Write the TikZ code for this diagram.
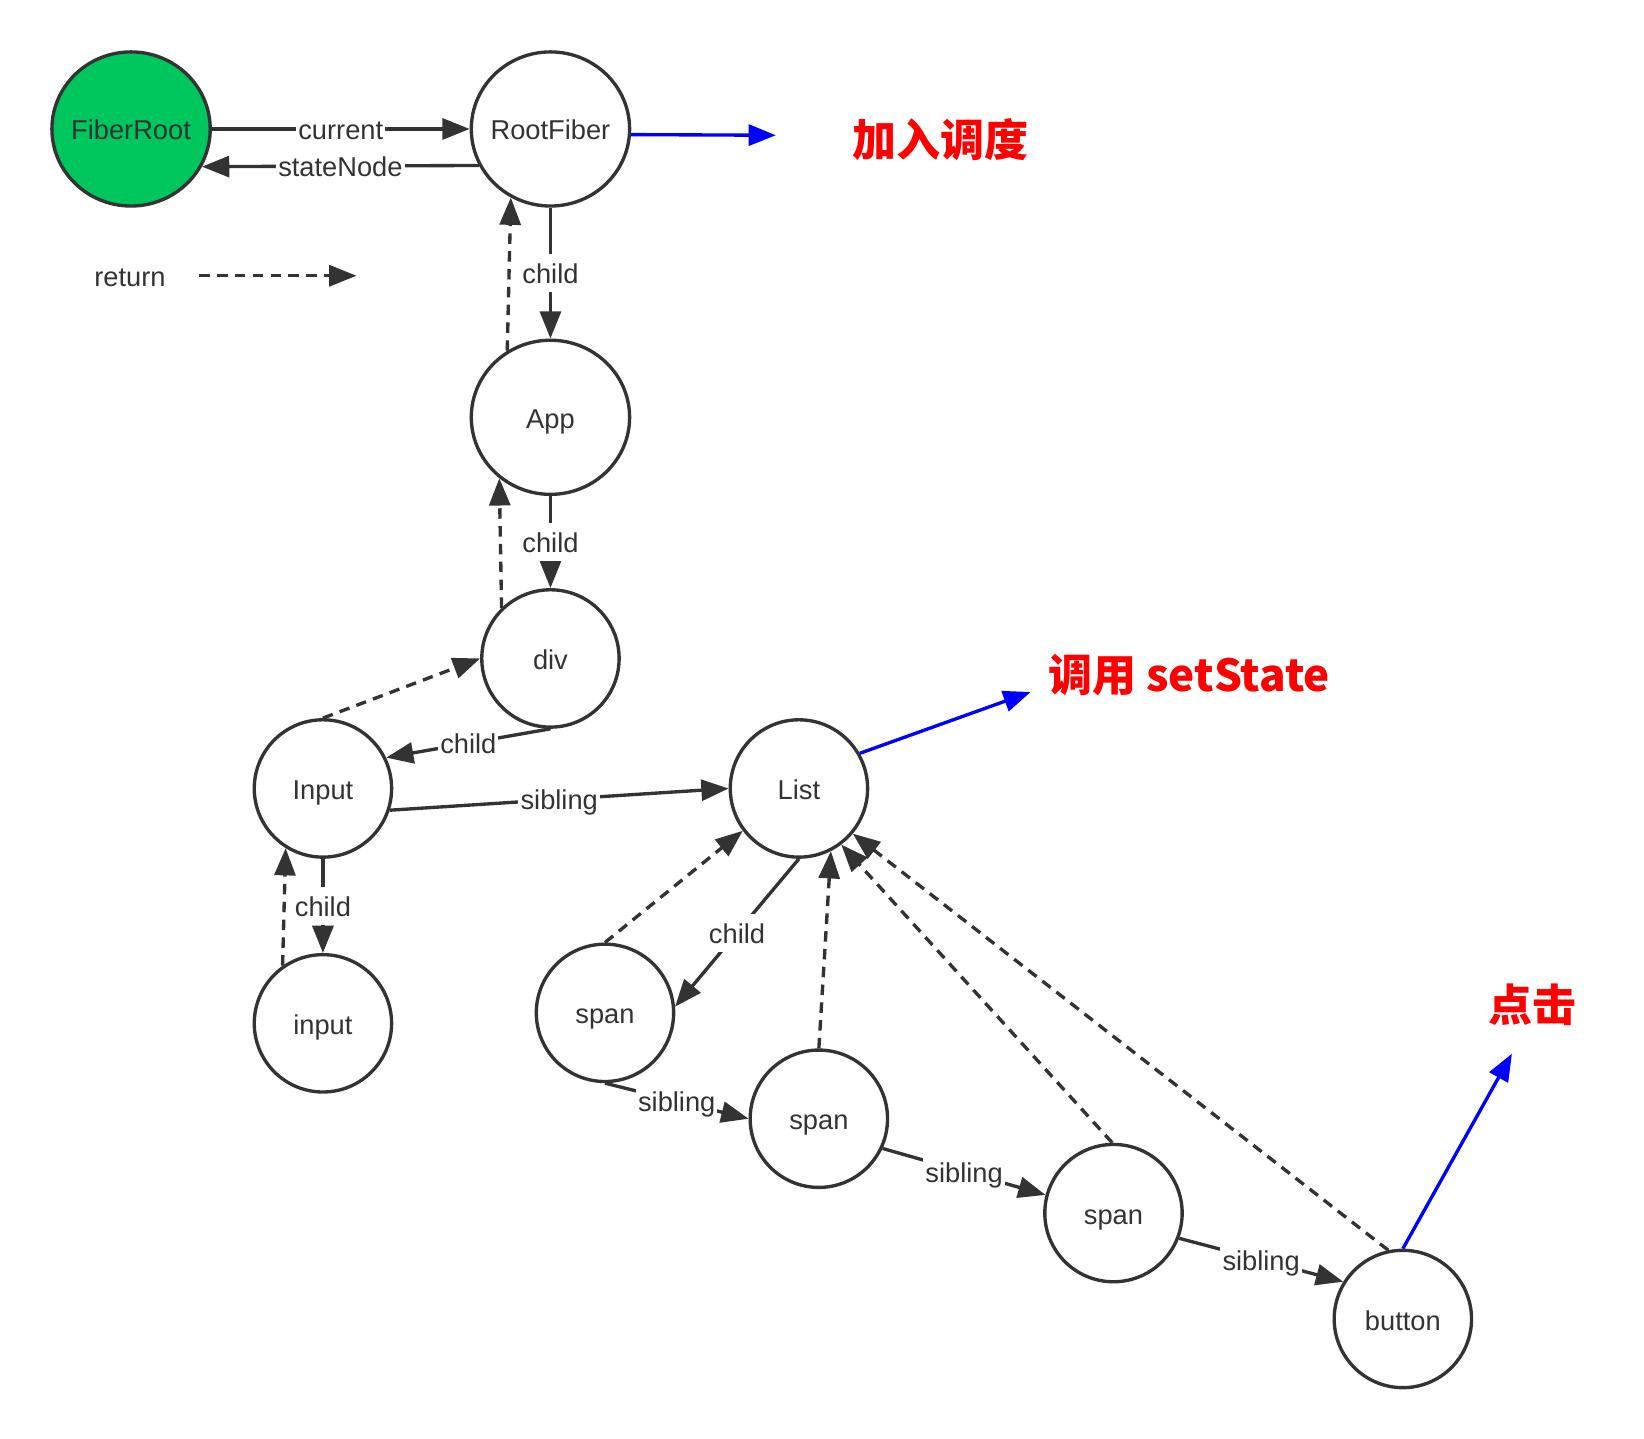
\documentclass[tikz,border=0pt]{standalone}
\usepackage{fontspec}
\setmainfont{Liberation Sans}
\newfontfamily\cjk{Noto Sans CJK SC}
\usetikzlibrary{shapes.geometric,arrows.meta}
\definecolor{lc}{HTML}{333333}
\definecolor{rootgreen}{HTML}{00C65E}
\definecolor{pureblue}{RGB}{0,0,255}
\definecolor{purered}{RGB}{255,0,0}
\newcommand\lbfont{\fontsize{13pt}{15pt}\selectfont}
\newcommand\redfont{\cjk\bfseries\fontsize{21pt}{25pt}\selectfont}
\tikzset{
  bignode/.style={ellipse, draw=lc, line width=1.6pt, minimum width=75.5pt, minimum height=73.5pt, inner xsep=-4pt, inner ysep=0pt, font=\lbfont, text=lc, text height=13.5pt, text depth=3pt},
  smallnode/.style={ellipse, draw=lc, line width=1.6pt, minimum width=65.5pt, minimum height=65.5pt, inner xsep=-2pt, inner ysep=0pt, font=\lbfont, text=lc, text height=13.5pt, text depth=3pt},
  conn/.style={draw=lc, line width=1.6pt, -{Triangle[length=13pt,width=10pt]}},
  retconn/.style={conn, dash pattern=on 5pt off 3.5pt},
  bluearrow/.style={draw=pureblue, line width=1.6pt, -{Triangle[length=13pt,width=10pt]}},
  lbl/.style={fill=white, inner sep=1pt, font=\lbfont, text=lc, text height=13pt, text depth=3pt},
  redtext/.style={font=\redfont, text=purered, inner sep=0pt},
  plain/.style={font=\lbfont, text=lc, inner sep=0pt}
}
\begin{document}
\begin{tikzpicture}[x=0.5pt,y=-0.5pt]
\useasboundingbox (0,0) rectangle (1568,1372);
% nodes
\node[bignode, fill=rootgreen] (FR) at (125,123) {FiberRoot};
\node[bignode] (RF) at (525,123) {RootFiber};
\node[bignode] (App) at (525,398) {App};
\node[smallnode] (div) at (525,628) {div};
\node[smallnode] (Input) at (308,752) {Input};
\node[smallnode] (input) at (308,976) {input};
\node[smallnode] (List) at (762,752) {List};
\node[smallnode] (span1) at (577,966) {span};
\node[smallnode] (span2) at (781,1067) {span};
\node[smallnode] (span3) at (1062,1157) {span};
\node[smallnode] (button) at (1338,1258) {button};
% texts
\node[redtext] (t1) at (897,133) {加入调度};
\node[redtext] (t2) at (1134,644) {调用 setState};
\node[redtext] (t3) at (1462,958) {点击};
\node[plain] (ret) at (124,265) {return};
% legend
\coordinate (lg1) at (190,263);
\coordinate (lg2) at (340,263);
\draw[retconn] (lg1) -- (lg2);
% FiberRoot / RootFiber
\draw[conn] (FR.east) -- node[lbl] {current} (RF.west);
\draw[conn] (RF.207.2) -- node[lbl] {stateNode} (FR.332.8);
% child edges
\draw[conn] (RF.south) -- node[lbl] {child} (App.north);
\draw[conn] (App.south) -- node[lbl] {child} (div.north);
\draw[conn] (div.south) -- node[lbl] {child} (Input.26);
\draw[conn] (Input.south) -- node[lbl] {child} (input.north);
\draw[conn] (List.south) -- node[lbl] {child} (span1.5);
% sibling edges
\draw[conn] (Input.342) -- node[lbl] {sibling} (List.west);
\draw[conn] (span1.south) -- node[lbl] {sibling} (span2.west);
\draw[conn] (span2.335) -- node[lbl] {sibling} (span3.165);
\draw[conn] (span3.339) -- node[lbl] {sibling} (button.148);
% return edges
\draw[retconn] (App.123.5) -- (RF.240.4);
\draw[retconn] (div.134.4) -- (App.230.3);
\draw[retconn] (Input.north) -- (div.west);
\draw[retconn] (input.125.5) -- (Input.238.9);
\draw[retconn] (span1.north) -- (List.217.9);
\draw[retconn] (span2.north) -- (List.297.3);
\draw[retconn] (span3.91.7) -- (List.307.5);
\draw[retconn] (button.102) -- (List.320.3);
% blue arrows
\coordinate (b1) at (740,129);
\coordinate (b2) at (983,660);
\coordinate (b3) at (1442,1005);
\draw[bluearrow] (RF.-4) -- (b1);
\draw[bluearrow] (List.30) -- (b2);
\draw[bluearrow] (button.north) -- (b3);
\end{tikzpicture}
\end{document}
